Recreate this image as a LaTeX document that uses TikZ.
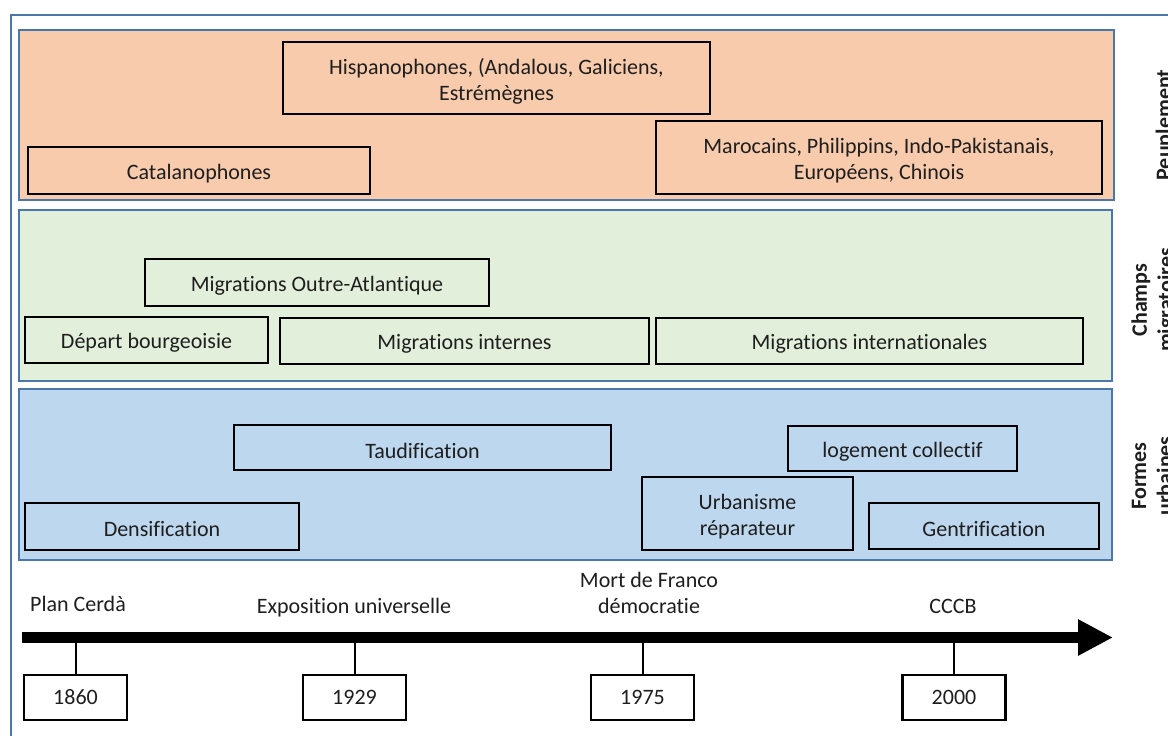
\documentclass[tikz,border=0pt]{standalone}
\usepackage{fontspec}
\setmainfont{Carlito}[Ligatures=NoCommon]
\usetikzlibrary{arrows.meta}
\definecolor{peach}{HTML}{F8CBAD}
\definecolor{lgreen}{HTML}{E2EFDA}
\definecolor{lblue}{HTML}{BDD7EE}
\definecolor{frameblue}{HTML}{4A76A8}
\definecolor{txt}{HTML}{1E1E1E}
\tikzset{
  band/.style={draw=frameblue, line width=2.5pt},
  bxtext/.style={inner sep=0pt, align=center, text=txt, yshift=-3pt,
     font=\fontsize{22}{26}\selectfont},
  bx/.style={draw=black, line width=2.7pt, inner sep=0pt,
     label={[bxtext]center:{#1}}},
  yearbox/.style={draw=black, line width=2.2pt, fill=white, inner sep=0pt, text=txt,
     minimum width=103pt, minimum height=45pt, font=\fontsize{22}{26}\selectfont},
  lbl/.style={inner sep=0pt, align=center, text=txt, font=\fontsize{22}{26}\selectfont},
  side/.style={inner sep=0pt, align=center, rotate=90, text=txt,
     font=\bfseries\fontsize{22}{26}\selectfont},
  tick/.style={draw=black, line width=2pt},
  timeline/.style={draw=black, line width=11pt, -{Triangle[length=35pt,width=34pt]}}
}
\begin{document}
\begin{tikzpicture}[x=1pt,y=-1pt]
\useasboundingbox (0,0) rectangle (1168,736);
\clip (0,0) rectangle (1168,736);
\fill[white] (0,0) rectangle (1168,736);
% outer frame
\draw[frameblue, line width=2.3pt] (11,15) rectangle (1220,800);
% bands
\draw[band, fill=peach] (19,30) rectangle (1114,200);
\draw[band, fill=lgreen] (19,210) rectangle (1112,381);
\draw[band, fill=lblue] (19,389) rectangle (1112,560);
% Peuplement
\node[bx={Hispanophones, (Andalous, Galiciens,\\Estrémègnes}, minimum width=427pt, minimum height=72pt] (hisp) at (496.5,78) {};
\node[bx={Catalanophones}, minimum width=342pt, minimum height=47pt] (cat) at (199,170.5) {};
\node[bx={Marocains, Philippins, Indo-Pakistanais,\\Européens, Chinois}, minimum width=446pt, minimum height=73pt] (maroc) at (879,157.5) {};
% Champs migratoires
\node[bx={Migrations Outre-Atlantique}, minimum width=344pt, minimum height=47pt] (outre) at (317,282.5) {};
\node[bx={Départ bourgeoisie}, minimum width=243pt, minimum height=46pt] (depart) at (146.5,340) {};
\node[bx={Migrations internes}, minimum width=369pt, minimum height=46pt] (mint) at (464.5,341) {};
\node[bx={Migrations internationales}, minimum width=427pt, minimum height=46pt] (minter) at (869.5,341) {};
% Formes urbaines
\node[bx={Taudification}, minimum width=377pt, minimum height=45pt] (taud) at (422.5,447.5) {};
\node[bx={logement collectif}, minimum width=229pt, minimum height=45pt] (loge) at (902.5,448.5) {};
\node[bx={Densification}, minimum width=274pt, minimum height=47pt] (dens) at (162,526.5) {};
\node[bx={Urbanisme\\réparateur}, minimum width=211pt, minimum height=73pt] (urba) at (747.5,513.5) {};
\node[bx={Gentrification}, minimum width=230pt, minimum height=46pt] (gent) at (984,526) {};
% side labels
\node[side, anchor=base] (peup) at (1171,125) {Peuplement};
\node[side] (champs) at (1154,300) {Champs\\migratoires};
\node[side] (formes) at (1152,476) {Formes\\urbaines};
% timeline
\coordinate (tl) at (22,637.5);
\coordinate (tr) at (1113,637.5);
\draw[timeline] (tl) -- (tr);
\node[yearbox] (y1860) at (75.5,697.5) {1860};
\node[yearbox] (y1929) at (354.5,697.5) {1929};
\node[yearbox] (y1975) at (642.5,697.5) {1975};
\node[yearbox] (y2000) at (954,697.5) {2000};
\draw[tick] (y1860.north) -- (y1860.north |- tl);
\draw[tick] (y1929.north) -- (y1929.north |- tl);
\draw[tick] (y1975.north) -- (y1975.north |- tl);
\draw[tick] (y2000.north) -- (y2000.north |- tl);
% event labels
\node[lbl, anchor=base] (cerda) at (78,611) {Plan Cerdà};
\node[lbl, anchor=base] (expo) at (354,613) {Exposition universelle};
\node[lbl] (franco) at (649,593) {Mort de Franco\\démocratie};
\node[lbl, anchor=base] (cccb) at (953,613) {CCCB};
\end{tikzpicture}
\end{document}
